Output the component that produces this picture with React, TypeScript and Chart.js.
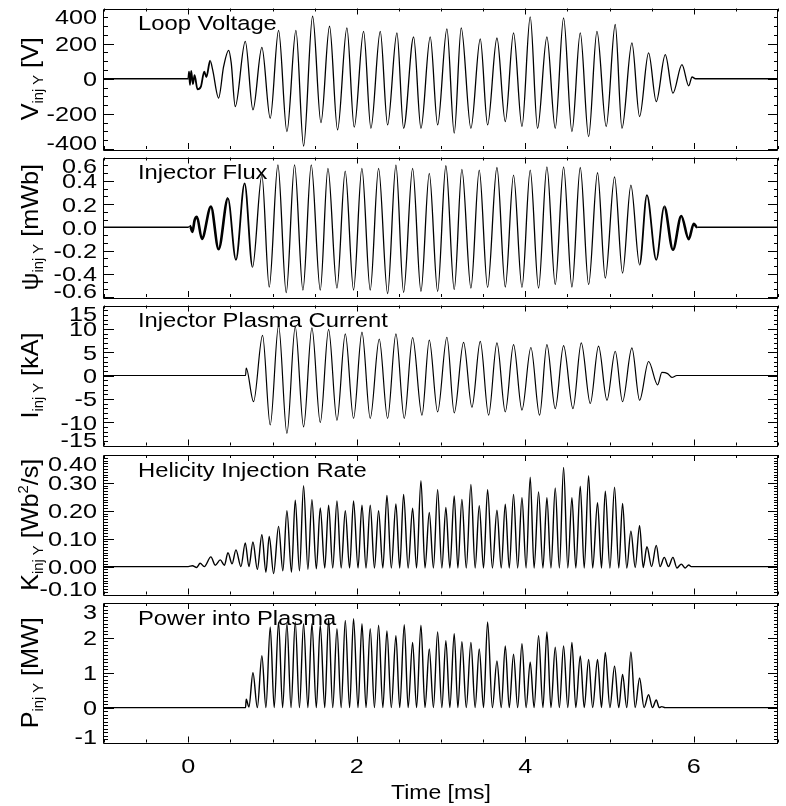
import React, { useEffect, useRef } from "react";
import { Chart, registerables } from "chart.js";

Chart.register(...registerables);

const W = 786;
const H = 806;
const PLOT_LEFT = 104;
const PLOT_RIGHT = 778;
const X_MIN = -1;
const X_MAX = 7;
const X_TICK_LABELS = [0, 2, 4, 6];
const X_TITLE = "Time [ms]";
const FONT = '"Liberation Sans", Arial, Helvetica, sans-serif';
const SX = 1.18;

// ---------- Loop voltage [V] ----------
const voltTimes = [-1, 0, 0.01, 0.02, 0.035, 0.055, 0.075, 0.11, 0.15, 0.19, 0.215, 0.26, 0.29, 0.36, 0.42, 0.48, 0.51, 0.558,
  0.677, 0.768, 0.874, 0.973, 1.072, 1.171, 1.278, 1.369, 1.476, 1.575, 1.677, 1.772, 1.883, 1.97, 2.081, 2.168, 2.279, 2.366,
  2.477, 2.556, 2.675, 2.762, 2.872, 2.96, 3.07, 3.157, 3.24, 3.355, 3.466, 3.553, 3.664, 3.763, 3.861, 3.961, 4.059, 4.146,
  4.257, 4.356, 4.455, 4.554, 4.653, 4.752, 4.851, 4.961, 5.068, 5.148, 5.266, 5.357, 5.464, 5.555, 5.662, 5.753, 5.86, 5.94,
  5.98, 6.02, 7];
const voltValues = [0, 0, 40, -35, 45, -30, 20, -60, -45, 40, 10, 103, 50, -110, 70, 162, 90, -158,
  213, -177, 179, -225, 276, -301, 276, -383, 356, -250, 299, -291, 290, -276, 270, -282, 270, -263,
  261, -282, 238, -282, 238, -263, 284, -310, 290, -282, 227, -263, 232, -244, 261, -272, 352, -282,
  238, -282, 347, -301, 261, -330, 270, -272, 309, -282, 204, -215, 147, -130, 137, -82, 80, -40,
  10, 0, 0];

// ---------- Injector flux [mWb] ----------
const fluxTimes = [-1, 0, 0.02, 0.05, 0.075, 0.103, 0.162, 0.269, 0.36, 0.471, 0.566, 0.669, 0.763, 0.874, 0.961, 1.064, 1.163,
  1.262, 1.361, 1.46, 1.567, 1.658, 1.765, 1.863, 1.962, 2.061, 2.16, 2.259, 2.366, 2.465, 2.556, 2.663, 2.762, 2.861, 2.96,
  3.058, 3.157, 3.248, 3.355, 3.454, 3.553, 3.664, 3.763, 3.861, 3.961, 4.059, 4.158, 4.257, 4.356, 4.455, 4.554, 4.653, 4.752,
  4.858, 4.95, 5.06, 5.155, 5.254, 5.357, 5.444, 5.555, 5.65, 5.753, 5.852, 5.94, 6.0, 6.04, 7];
const fluxValues = [0, 0, 0.01, -0.04, 0.06, 0.09, -0.1, 0.177, -0.189, 0.249, -0.28, 0.377, -0.343, 0.449, -0.514, 0.537, -0.563,
  0.537, -0.54, 0.537, -0.54, 0.506, -0.523, 0.483, -0.54, 0.506, -0.54, 0.506, -0.571, 0.534, -0.56, 0.506, -0.551, 0.463, -0.551,
  0.529, -0.537, 0.497, -0.523, 0.491, -0.517, 0.514, -0.514, 0.449, -0.517, 0.491, -0.523, 0.52, -0.494, 0.52, -0.514, 0.514, -0.494,
  0.469, -0.437, 0.434, -0.394, 0.363, -0.323, 0.277, -0.28, 0.177, -0.194, 0.097, -0.103, 0.03, 0, 0];

// ---------- Injector plasma current [kA] ----------
const currTimes = [-1, 0.68, 0.688, 0.775, 0.882, 0.973, 1.072, 1.171, 1.27, 1.369, 1.468, 1.567, 1.666, 1.765, 1.864, 1.962,
  2.062, 2.16, 2.267, 2.366, 2.465, 2.564, 2.663, 2.774, 2.861, 2.96, 3.07, 3.157, 3.268, 3.367, 3.466, 3.565, 3.664, 3.763,
  3.861, 3.961, 4.067, 4.17, 4.257, 4.356, 4.455, 4.566, 4.665, 4.772, 4.87, 4.97, 5.068, 5.155, 5.266, 5.357, 5.464, 5.571,
  5.622, 5.69, 5.741, 5.8, 7];
const currValues = [0, 0, 1.6, -5.6, 8.6, -10.6, 10.7, -12.4, 10.4, -11.0, 10.2, -10.1, 9.9, -9.6, 8.9, -9.2,
  9.3, -9.2, 7.8, -9.2, 8.9, -9.2, 8.1, -8.5, 7.6, -7.8, 8.2, -8.0, 7.1, -6.8, 7.3, -8.5, 7.0, -7.8,
  6.6, -7.4, 6.0, -8.5, 6.6, -7.1, 6.4, -7.1, 7.0, -6.0, 6.3, -5.3, 5.2, -5.6, 5.9, -5.3, 3.0, -2.0,
  0.65, 0.4, -0.4, 0, 0];

// ---------- Helicity injection rate [Wb^2/s] ----------
const heliTimes = [-1, 0, 0.05, 0.1, 0.141, 0.19, 0.269, 0.32, 0.38, 0.43, 0.471, 0.52, 0.566, 0.625,
  0.677, 0.72, 0.768, 0.82, 0.874, 0.922, 0.961, 1.013, 1.072, 1.123, 1.171, 1.225, 1.27, 1.32, 1.369, 1.42, 1.468, 1.52,
  1.567, 1.62, 1.666, 1.715, 1.765, 1.815, 1.864, 1.915, 1.962, 2.015, 2.062, 2.11, 2.16, 2.21, 2.259, 2.31, 2.358, 2.41,
  2.465, 2.51, 2.556, 2.61, 2.663, 2.71, 2.762, 2.81, 2.861, 2.91, 2.96, 3.01, 3.058, 3.105, 3.157, 3.2, 3.248, 3.3,
  3.355, 3.405, 3.454, 3.505, 3.553, 3.61, 3.664, 3.715, 3.763, 3.81, 3.861, 3.91, 3.961, 4.01, 4.059, 4.105, 4.158, 4.21,
  4.257, 4.305, 4.356, 4.405, 4.455, 4.505, 4.554, 4.6, 4.653, 4.7, 4.752, 4.8, 4.858, 4.905, 4.95, 5.005, 5.06, 5.11,
  5.155, 5.205, 5.254, 5.305, 5.357, 5.4, 5.444, 5.5, 5.555, 5.6, 5.65, 5.7, 5.753, 5.8, 5.852, 5.9, 5.94, 5.97, 7];
const heliValues = [0, 0, 0.003, -0.003, 0.012, 0, 0.035, 0.005, 0.024, 0.005, 0.05, 0.01, 0.06, 0,
  0.085, 0, 0.088, -0.01, 0.114, -0.02, 0.108, -0.025, 0.144, -0.015, 0.2, -0.02, 0.238, -0.015, 0.29, -0.01, 0.24, -0.008,
  0.21, -0.005, 0.22, -0.005, 0.235, -0.005, 0.2, -0.005, 0.235, -0.005, 0.22, -0.005, 0.22, -0.005, 0.2, -0.005, 0.255, -0.005,
  0.225, -0.005, 0.259, -0.005, 0.209, -0.005, 0.308, -0.005, 0.194, -0.005, 0.276, -0.005, 0.212, -0.005, 0.253, -0.005, 0.241, -0.005,
  0.294, -0.005, 0.218, -0.005, 0.276, -0.005, 0.202, -0.005, 0.224, -0.005, 0.259, -0.005, 0.247, -0.005, 0.32, -0.005, 0.268, -0.005,
  0.247, -0.005, 0.282, -0.005, 0.355, -0.005, 0.247, -0.005, 0.288, -0.005, 0.326, -0.005, 0.229, -0.005, 0.27, -0.005, 0.285, -0.005,
  0.226, -0.005, 0.127, -0.003, 0.147, -0.003, 0.071, 0, 0.076, 0, 0.033, 0, 0.033, -0.005, 0.009, -0.005, 0.006, 0, 0];

// ---------- Power into plasma [MW] ----------
const powerTimes = [-1, 0.68, 0.688, 0.72, 0.768, 0.82, 0.874, 0.922, 0.973, 1.02, 1.072, 1.12, 1.171, 1.22, 1.27, 1.32,
  1.369, 1.42, 1.468, 1.52, 1.567, 1.62, 1.666, 1.715, 1.765, 1.815, 1.864, 1.915, 1.962, 2.015, 2.062, 2.11, 2.16, 2.21,
  2.259, 2.31, 2.358, 2.41, 2.465, 2.51, 2.564, 2.61, 2.663, 2.71, 2.762, 2.81, 2.861, 2.91, 2.96, 3.01, 3.058, 3.105,
  3.157, 3.2, 3.248, 3.3, 3.355, 3.405, 3.454, 3.505, 3.553, 3.61, 3.664, 3.715, 3.763, 3.81, 3.861, 3.91, 3.961, 4.01,
  4.059, 4.105, 4.158, 4.21, 4.257, 4.305, 4.356, 4.405, 4.455, 4.505, 4.554, 4.6, 4.653, 4.7, 4.752, 4.8, 4.858, 4.905,
  4.95, 5.005, 5.06, 5.11, 5.155, 5.205, 5.254, 5.305, 5.357, 5.41, 5.464, 5.51, 5.555, 5.59, 5.62, 5.66, 7];
const powerValues = [0, 0, 0.24, 0.02, 1.0, 0, 1.49, 0, 2.31, 0, 2.46, 0, 2.41, 0, 2.46, 0,
  2.41, 0, 2.41, 0, 2.36, 0, 2.55, 0, 2.26, 0, 2.5, 0, 2.55, 0, 2.41, 0, 2.26, 0,
  2.36, 0, 2.2, 0, 2.06, 0, 2.38, 0, 1.87, 0, 2.36, 0, 1.68, 0, 2.17, 0, 1.92, 0,
  2.12, 0, 1.89, 0, 1.87, 0, 1.68, 0, 2.46, 0, 1.34, 0, 1.77, 0, 1.53, 0, 1.83, 0,
  1.3, 0, 2.06, 0, 2.17, 0, 1.73, 0, 1.77, 0, 1.87, 0, 1.48, 0, 1.38, 0, 1.38, 0,
  1.58, 0, 1.19, 0, 0.95, 0, 1.6, 0, 0.85, 0, 0.37, 0, 0.22, 0, 0.03, 0, 0];

// ---------- axis tick labels ----------
const voltTicks = [400, 200, 0, -200, -400];
const fluxTicks = [0.6, 0.4, 0.2, 0.0, -0.2, -0.4, -0.6];
const currTicks = [15, 10, 5, 0, -5, -10, -15];
const heliTicks = [0.4, 0.3, 0.2, 0.1, 0.0, -0.1];
const powerTicks = [3, 2, 1, 0, -1];

// time windows where the recorded trace is a dense noisy band (drawn thicker)
const fluxNoisyBands = [[0.02, 0.5, 2.6], [0.5, 0.8, 1.8], [5.4, 5.7, 1.8], [5.7, 6.03, 2.6]];
const voltNoisyBands = [[0.0, 0.25, 1.8]];

type Seg = { t: string; k: "main" | "sub" | "sup" };
type PanelCfg = {
  top: number;
  bottom: number;
  min: number;
  max: number;
  ticks: number[];
  digits: number;
  minorStep: number;
  title: string;
  ytitle: Seg[];
  times: number[];
  values: number[];
  lw: number;
  bands: number[][];
};

const PANELS: PanelCfg[] = [
  { top: 8.5, bottom: 149, min: -400, max: 400, ticks: voltTicks, digits: 0, minorStep: 50, title: "Loop Voltage",
    ytitle: [{ t: "V", k: "main" }, { t: "inj Y", k: "sub" }, { t: " [V]", k: "main" }], times: voltTimes, values: voltValues,
    lw: 1.3, bands: voltNoisyBands },
  { top: 157.5, bottom: 297, min: -0.6, max: 0.6, ticks: fluxTicks, digits: 1, minorStep: 0.2 / 3, title: "Injector Flux",
    ytitle: [{ t: "\u03c8", k: "main" }, { t: "inj Y", k: "sub" }, { t: " [mWb]", k: "main" }], times: fluxTimes, values: fluxValues,
    lw: 1.3, bands: fluxNoisyBands },
  { top: 305.5, bottom: 445.5, min: -15, max: 15, ticks: currTicks, digits: 0, minorStep: 1, title: "Injector Plasma Current",
    ytitle: [{ t: "I", k: "main" }, { t: "inj Y", k: "sub" }, { t: " [kA]", k: "main" }], times: currTimes, values: currValues,
    lw: 1.2, bands: [] },
  { top: 455, bottom: 594.5, min: -0.1, max: 0.4, ticks: heliTicks, digits: 2, minorStep: 0.01, title: "Helicity Injection Rate",
    ytitle: [{ t: "K", k: "main" }, { t: "inj Y", k: "sub" }, { t: " [Wb", k: "main" }, { t: "2", k: "sup" }, { t: "/s]", k: "main" }],
    times: heliTimes, values: heliValues, lw: 1.4, bands: [] },
  { top: 603, bottom: 742.5, min: -1, max: 3, ticks: powerTicks, digits: 0, minorStep: 0.1, title: "Power into Plasma",
    ytitle: [{ t: "P", k: "main" }, { t: "inj Y", k: "sub" }, { t: " [MW]", k: "main" }], times: powerTimes, values: powerValues,
    lw: 1.4, bands: [] },
];

function drawText(ctx: CanvasRenderingContext2D, s: string, x: number, y: number, size: number,
  align: "left" | "center" | "right", sx = SX) {
  ctx.save();
  ctx.font = `${size}px ${FONT}`;
  ctx.textBaseline = "alphabetic";
  ctx.textAlign = "left";
  const w = ctx.measureText(s).width * sx;
  let x0 = x;
  if (align === "center") x0 = x - w / 2;
  else if (align === "right") x0 = x - w;
  ctx.translate(x0, y);
  ctx.scale(sx, 1);
  ctx.fillText(s, 0, 0);
  ctx.restore();
  return w;
}

const TICK_SIZE = 21;
const TICK_SX = 1.2;
const TITLE_SIZE = 20.5;
const YT_MAIN = 24;
const YT_SUB = 14;

function makeDeco(p: PanelCfg, isLast: boolean) {
  return {
    id: "idlFrame",
    afterDraw(chart: any) {
      const ctx: CanvasRenderingContext2D = chart.ctx;
      const xs = chart.scales.x;
      const ys = chart.scales.y;
      const { left, right, top, bottom } = chart.chartArea;
      ctx.save();
      ctx.fillStyle = "#000";
      ctx.strokeStyle = "#000";
      ctx.lineWidth = 1;
      ctx.beginPath();
      ctx.rect(Math.round(left) - 0.5, Math.round(top) + 0.5, Math.round(right - left), Math.round(bottom - top));
      ctx.stroke();
      // x ticks (top & bottom)
      ctx.beginPath();
      for (let i = 0; i <= 16; i++) {
        const v = X_MIN + i * 0.5;
        const px = Math.round(xs.getPixelForValue(v)) + 0.5;
        const major = Math.abs(v / 2 - Math.round(v / 2)) < 1e-6;
        const len = major ? 6 : 3;
        ctx.moveTo(px, bottom);
        ctx.lineTo(px, bottom - len);
        ctx.moveTo(px, top);
        ctx.lineTo(px, top + len);
      }
      // y ticks (left & right)
      const nMinor = Math.round((p.max - p.min) / p.minorStep);
      for (let i = 0; i <= nMinor; i++) {
        const v = p.min + i * p.minorStep;
        const py = Math.round(ys.getPixelForValue(v)) + 0.5;
        const major = p.ticks.some((t) => Math.abs(t - v) < p.minorStep * 0.1);
        const len = major ? 10 : 4;
        ctx.moveTo(left, py);
        ctx.lineTo(left + len, py);
        ctx.moveTo(right, py);
        ctx.lineTo(right - len, py);
      }
      ctx.stroke();

      // y tick labels
      for (const t of p.ticks) {
        const py = ys.getPixelForValue(t);
        const cy = Math.min(Math.max(py, top + 8), bottom - 6.5);
        const label = t.toFixed(p.digits);
        drawText(ctx, label, 97, cy + 0.358 * TICK_SIZE, TICK_SIZE, "right", TICK_SX);
      }

      // panel title
      drawText(ctx, p.title, 138, top + 21.5, TITLE_SIZE, "left", 1.16);

      // rotated y title
      const cy = (top + bottom) / 2;
      ctx.save();
      ctx.translate(38, cy);
      ctx.rotate(-Math.PI / 2);
      const segs = p.ytitle.map((s) => {
        const size = s.k === "main" ? YT_MAIN : YT_SUB;
        ctx.font = `${size}px ${FONT}`;
        return { ...s, size, w: ctx.measureText(s.t).width * 1.05 };
      });
      const total = segs.reduce((a, s) => a + s.w, 0);
      let x = -total / 2;
      for (const s of segs) {
        const dy = s.k === "sub" ? 5 : s.k === "sup" ? -10 : 0;
        drawText(ctx, s.t, x, dy, s.size, "left", 1.05);
        x += s.w;
      }
      ctx.restore();

      if (isLast) {
        for (const v of X_TICK_LABELS) {
          const px = xs.getPixelForValue(v);
          drawText(ctx, String(v), px, 773, TICK_SIZE, "center", TICK_SX);
        }
        drawText(ctx, X_TITLE, (left + right) / 2, 799, TITLE_SIZE, "center", 1.12);
      }
      ctx.restore();
    },
  };
}

function Panel({ p, isLast }: { p: PanelCfg; isLast: boolean }) {
  const ref = useRef<HTMLCanvasElement | null>(null);
  useEffect(() => {
    if (!ref.current) return;
    const data = p.times.map((t, i) => ({ x: t, y: p.values[i] }));
    const widthAt = (x0: number, x1: number) => {
      const xm = (x0 + x1) / 2;
      for (const b of p.bands) if (xm >= b[0] && xm < b[1]) return b[2];
      return p.lw;
    };
    const chart = new Chart(ref.current, {
      type: "line",
      data: {
        datasets: [
          {
            data,
            borderColor: "#000",
            borderWidth: p.lw,
            pointRadius: 0,
            fill: false,
            cubicInterpolationMode: "monotone",
            segment: {
              borderWidth: (c: any) => widthAt(c.p0.parsed.x, c.p1.parsed.x),
            },
          } as any,
        ],
      },
      options: {
        animation: false,
        responsive: false,
        devicePixelRatio: 1,
        events: [],
        layout: { padding: { left: PLOT_LEFT, right: W - PLOT_RIGHT, top: p.top, bottom: H - p.bottom } },
        plugins: { legend: { display: false }, tooltip: { enabled: false }, title: { display: false } },
        scales: {
          x: { type: "linear", min: X_MIN, max: X_MAX, display: false },
          y: { type: "linear", min: p.min, max: p.max, display: false },
        },
      },
      plugins: [makeDeco(p, isLast)],
    });
    return () => chart.destroy();
  }, [p, isLast]);
  return (
    <canvas
      ref={ref}
      width={W}
      height={H}
      style={{ position: "absolute", left: 0, top: 0, width: W, height: H }}
    />
  );
}

export default function App() {
  return (
    <div style={{ position: "absolute", left: 0, top: 0, width: W, height: H, background: "#fff", overflow: "hidden" }}>
      {PANELS.map((p, i) => (
        <Panel key={i} p={p} isLast={i === PANELS.length - 1} />
      ))}
    </div>
  );
}
